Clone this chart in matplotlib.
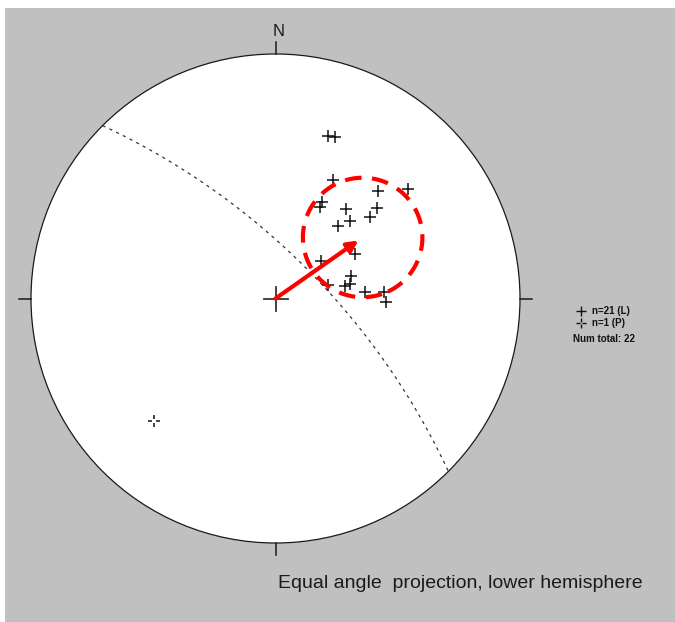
import numpy as np
import matplotlib.pyplot as plt
from matplotlib.path import Path
from matplotlib.patches import Circle, Rectangle

# lineations (L): trend / plunge in degrees
trend_L = [17.9, 20.3, 26.0, 43.5, 50.3, 25.8, 26.1, 38.4, 48.2, 49.4, 43.7,
           41.0, 61.0, 50.9, 73.8, 76.1, 80.2, 79.4, 86.1, 86.3, 91.6]
plunge_L = [20.1, 19.6, 33.2, 27.4, 19.8, 42.6, 44.8, 40.0, 32.0, 35.8, 42.6,
            47.2, 49.0, 62.8, 54.2, 65.0, 57.6, 55.4, 49.8, 42.2, 41.4]

# poles (P)
trend_P = [224.6]
plunge_P = [19.6]

# mean direction and cone around it
mean_trend, mean_plunge, cone_angle = 55.0, 45.0, 23.4

# plane drawn as great circle (dip direction / dip)
plane_dipdir, plane_dip = 45.0, 70.0

R_PX = 244.5
CX, CY = 275.5, 298.5
W, H = 675, 622


def project(trend, plunge):
    """equal angle (stereographic) projection, lower hemisphere"""
    t = np.radians(np.asarray(trend, dtype=float))
    r = np.tan(np.radians(90.0 - np.asarray(plunge, dtype=float)) / 2.0)
    return r * np.sin(t), r * np.cos(t)


def vec2tp(v):
    e, n, d = v
    return np.degrees(np.arctan2(e, n)) % 360, np.degrees(np.arcsin(np.clip(d, -1, 1)))


def tp2vec(trend, plunge):
    t, p = np.radians(trend), np.radians(plunge)
    return np.array([np.cos(p) * np.sin(t), np.cos(p) * np.cos(t), np.sin(p)])


def small_circle(trend, plunge, alpha, n=200):
    m = tp2vec(trend, plunge)
    u = np.cross(m, [0, 0, 1.0])
    u /= np.linalg.norm(u)
    v = np.cross(m, u)
    phi = np.linspace(0, 2 * np.pi, n)
    a = np.radians(alpha)
    pts = (np.cos(a) * m[:, None]
           + np.sin(a) * (np.cos(phi) * u[:, None] + np.sin(phi) * v[:, None]))
    return project(*vec2tp(pts))


def great_circle(dipdir, dip, n=200):
    s = np.array([np.sin(np.radians(dipdir - 90)), np.cos(np.radians(dipdir - 90)), 0.0])
    d = tp2vec(dipdir, dip)
    t = np.linspace(0, np.pi, n)
    pts = np.cos(t) * s[:, None] + np.sin(t) * d[:, None]
    return project(*vec2tp(pts))


def fig_xy(px, py):
    return px / W, 1 - py / H


fig = plt.figure(figsize=(W / 100, H / 100), dpi=100)
fig.patch.set_facecolor('white')
ax = fig.add_axes([0, 0, 1, 1])
ax.set_xlim(-CX / R_PX, (W - CX) / R_PX)
ax.set_ylim(-(H - CY) / R_PX, CY / R_PX)
ax.axis('off')

ax.add_patch(Rectangle((5 / W, 0), 1, 1 - 8 / H, transform=fig.transFigure,
                       facecolor='#c0c0c0', edgecolor='none', zorder=0))

# primitive circle + N/E/S/W ticks
ax.add_patch(Circle((0, 0), 1, facecolor='white', edgecolor='#1a1a1a', lw=0.9, zorder=1))
tk = 12 / R_PX
for dx, dy in [(0, 1), (1, 0), (0, -1), (-1, 0)]:
    ax.plot([dx, dx * (1 + tk)], [dy, dy * (1 + tk)], color='#1a1a1a', lw=1.1, zorder=2)
ax.plot([-tk, tk], [0, 0], color='#333333', lw=1.3, zorder=2)
ax.plot([0, 0], [-tk, tk], color='#333333', lw=1.3, zorder=2)

gx, gy = great_circle(plane_dipdir, plane_dip)
ax.plot(gx, gy, color='#333333', lw=0.9, ls=(0, (2.5, 3.5)), zorder=2)

xl, yl = project(trend_L, plunge_L)
ax.plot(xl, yl, ls='none', marker='+', ms=8.5, mew=1.1, color='#111111', zorder=3)

broken_cross = Path([(-1, 0), (-0.3, 0), (0.3, 0), (1, 0), (0, -1), (0, -0.3), (0, 0.3), (0, 1)],
                    [Path.MOVETO, Path.LINETO] * 4)
xp, yp = project(trend_P, plunge_P)
ax.plot(xp, yp, ls='none', marker=broken_cross, ms=9, mew=1.1, color='#111111', zorder=3)

# mean direction and cone (red)
cx_, cy_ = small_circle(mean_trend, mean_plunge, cone_angle)
ax.plot(cx_, cy_, color='#ff0000', lw=3, ls=(0, (4, 2.5)), zorder=4)
mx, my = project(mean_trend, mean_plunge)
ax.annotate('', xy=(mx, my), xytext=(0, 0),
            arrowprops=dict(arrowstyle='-|>', color='#ff0000', lw=3,
                            mutation_scale=16, shrinkA=0, shrinkB=0), zorder=4)

fig.text(*fig_xy(279, 31), 'N', ha='center', va='center', fontsize=12,
         family='Liberation Sans', color='#1a1a1a')

# legend
fig.lines.append(plt.Line2D([581 / W], [1 - 311 / H], transform=fig.transFigure,
                            marker='+', ms=7, mew=1.0, color='#111111', ls='none'))
fig.lines.append(plt.Line2D([581 / W], [1 - 323 / H], transform=fig.transFigure,
                            marker=broken_cross, ms=7, mew=1.0, color='#111111', ls='none'))
lfont = dict(fontsize=7, fontweight='bold', family='Liberation Sans', color='#111111',
             va='center', ha='left')
fig.text(*fig_xy(592, 311), 'n=%d (L)' % len(trend_L), **lfont)
fig.text(*fig_xy(592, 323), 'n=%d (P)' % len(trend_P), **lfont)
fig.text(*fig_xy(573, 339), 'Num total: %d' % (len(trend_L) + len(trend_P)), **lfont)

fig.text(*fig_xy(278, 588), 'Equal angle  projection, lower hemisphere',
         ha='left', va='baseline', fontsize=14, family='Liberation Sans', color='#1a1a1a')

fig.savefig('out.png', dpi=100)
